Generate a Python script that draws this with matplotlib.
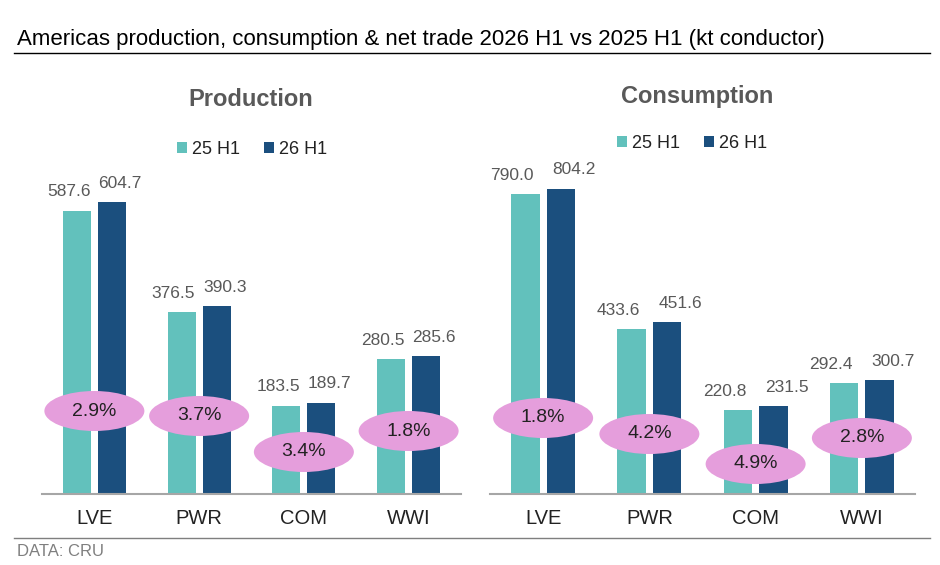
import matplotlib
matplotlib.use("Agg")
import matplotlib.pyplot as plt
from matplotlib.patches import Ellipse
from matplotlib.lines import Line2D

plt.rcParams['font.family'] = ['Liberation Sans', 'DejaVu Sans']

categories = ["LVE", "PWR", "COM", "WWI"]
series_names = ["25 H1", "26 H1"]
prod_25 = [587.6, 376.5, 183.5, 280.5]
prod_26 = [604.7, 390.3, 189.7, 285.6]
cons_25 = [790.0, 433.6, 220.8, 292.4]
cons_26 = [804.2, 451.6, 231.5, 300.7]
prod_growth = ["2.9%", "3.7%", "3.4%", "1.8%"]
cons_growth = ["1.8%", "4.2%", "4.9%", "2.8%"]

TEAL = "#62C1BC"
NAVY = "#1B4F7E"
PINK = "#E59EDC"
GREY = "#595959"

W, H = 940, 565
fig = plt.figure(figsize=(W / 100, H / 100), dpi=100)

def fx(px):
    return px / W

def fy(py):
    return 1 - py / H

# title and lines
fig.text(fx(17), fy(39), "Americas production, consumption & net trade 2026 H1 vs 2025 H1 (kt conductor)",
         fontsize=16, color="#000000", va="center", ha="left")
fig.add_artist(Line2D([fx(14), fx(930)], [fy(53), fy(53)], color="#000000", lw=1.0))
fig.add_artist(Line2D([fx(14), fx(930)], [fy(538), fy(538)], color="#7F7F7F", lw=1.0))
fig.text(fx(17), fy(551), "DATA: CRU", fontsize=12, color="#7F7F7F", va="center", ha="left")

panels = [
    dict(left=42, right=461, top=170, bottom=494, ymax=672, s25=prod_25, s26=prod_26,
         growth=prod_growth, title="Production", title_xy=(251, 99), leg_y=149, leg_x=252,
         ell_y=[411, 416, 452, 431], lab_off=0.245),
    dict(left=490, right=915, top=170, bottom=494, ymax=853, s25=cons_25, s26=cons_26,
         growth=cons_growth, title="Consumption", title_xy=(697, 96), leg_y=143, leg_x=692,
         ell_y=[418, 434, 464, 438], lab_off=0.29),
]

bw = 0.267
off = 0.167
for p in panels:
    ax = fig.add_axes([fx(p["left"]), fy(p["bottom"]), fx(p["right"] - p["left"]),
                       (p["bottom"] - p["top"]) / H])
    x = list(range(len(categories)))
    b1 = ax.bar([i - off for i in x], p["s25"], width=bw, color=TEAL, label=series_names[0], zorder=2)
    b2 = ax.bar([i + off for i in x], p["s26"], width=bw, color=NAVY, label=series_names[1], zorder=2)
    ax.set_xlim(-0.5, len(categories) - 0.5)
    ax.set_ylim(0, p["ymax"])
    for i in x:
        ax.annotate(f"{p['s25'][i]:.1f}", (i - p["lab_off"], p["s25"][i]), xytext=(0, 13.5),
                    textcoords="offset points", ha="center", va="center", fontsize=12.5, color=GREY)
        ax.annotate(f"{p['s26'][i]:.1f}", (i + p["lab_off"], p["s26"][i]), xytext=(0, 13.5),
                    textcoords="offset points", ha="center", va="center", fontsize=12.5, color=GREY)
    # ellipses
    ppu = (p["bottom"] - p["top"]) / p["ymax"]
    cpx = (p["right"] - p["left"]) / len(categories)
    for i in x:
        yc = (p["bottom"] - p["ell_y"][i]) / ppu
        e = Ellipse((i, yc), 100 / cpx, 40 / ppu, facecolor=PINK, edgecolor="none", zorder=3,
                    clip_on=False)
        ax.add_patch(e)
        ax.text(i, yc, p["growth"][i], ha="center", va="center", fontsize=14, color="#222222", zorder=4)
    for s in ["top", "right", "left"]:
        ax.spines[s].set_visible(False)
    ax.spines["bottom"].set_color("#A6A6A6")
    ax.spines["bottom"].set_linewidth(1.5)
    ax.set_yticks([])
    ax.set_xticks(x)
    ax.set_xticklabels(categories, fontsize=14.5, color="#222222")
    ax.tick_params(axis="x", length=0, pad=11)
    fig.text(fx(p["title_xy"][0]), fy(p["title_xy"][1]), p["title"], fontsize=17, fontweight="bold",
             color=GREY, ha="center", va="center")
    ax.legend(handles=[b1, b2], loc="center", bbox_to_anchor=(fx(p["leg_x"]), fy(p["leg_y"])),
              bbox_transform=fig.transFigure, ncol=2, frameon=False, fontsize=13,
              handlelength=0.55, handleheight=0.55, handletextpad=0.3, columnspacing=1.3,
              labelcolor="#222222")

fig.savefig("out.png", dpi=100)
